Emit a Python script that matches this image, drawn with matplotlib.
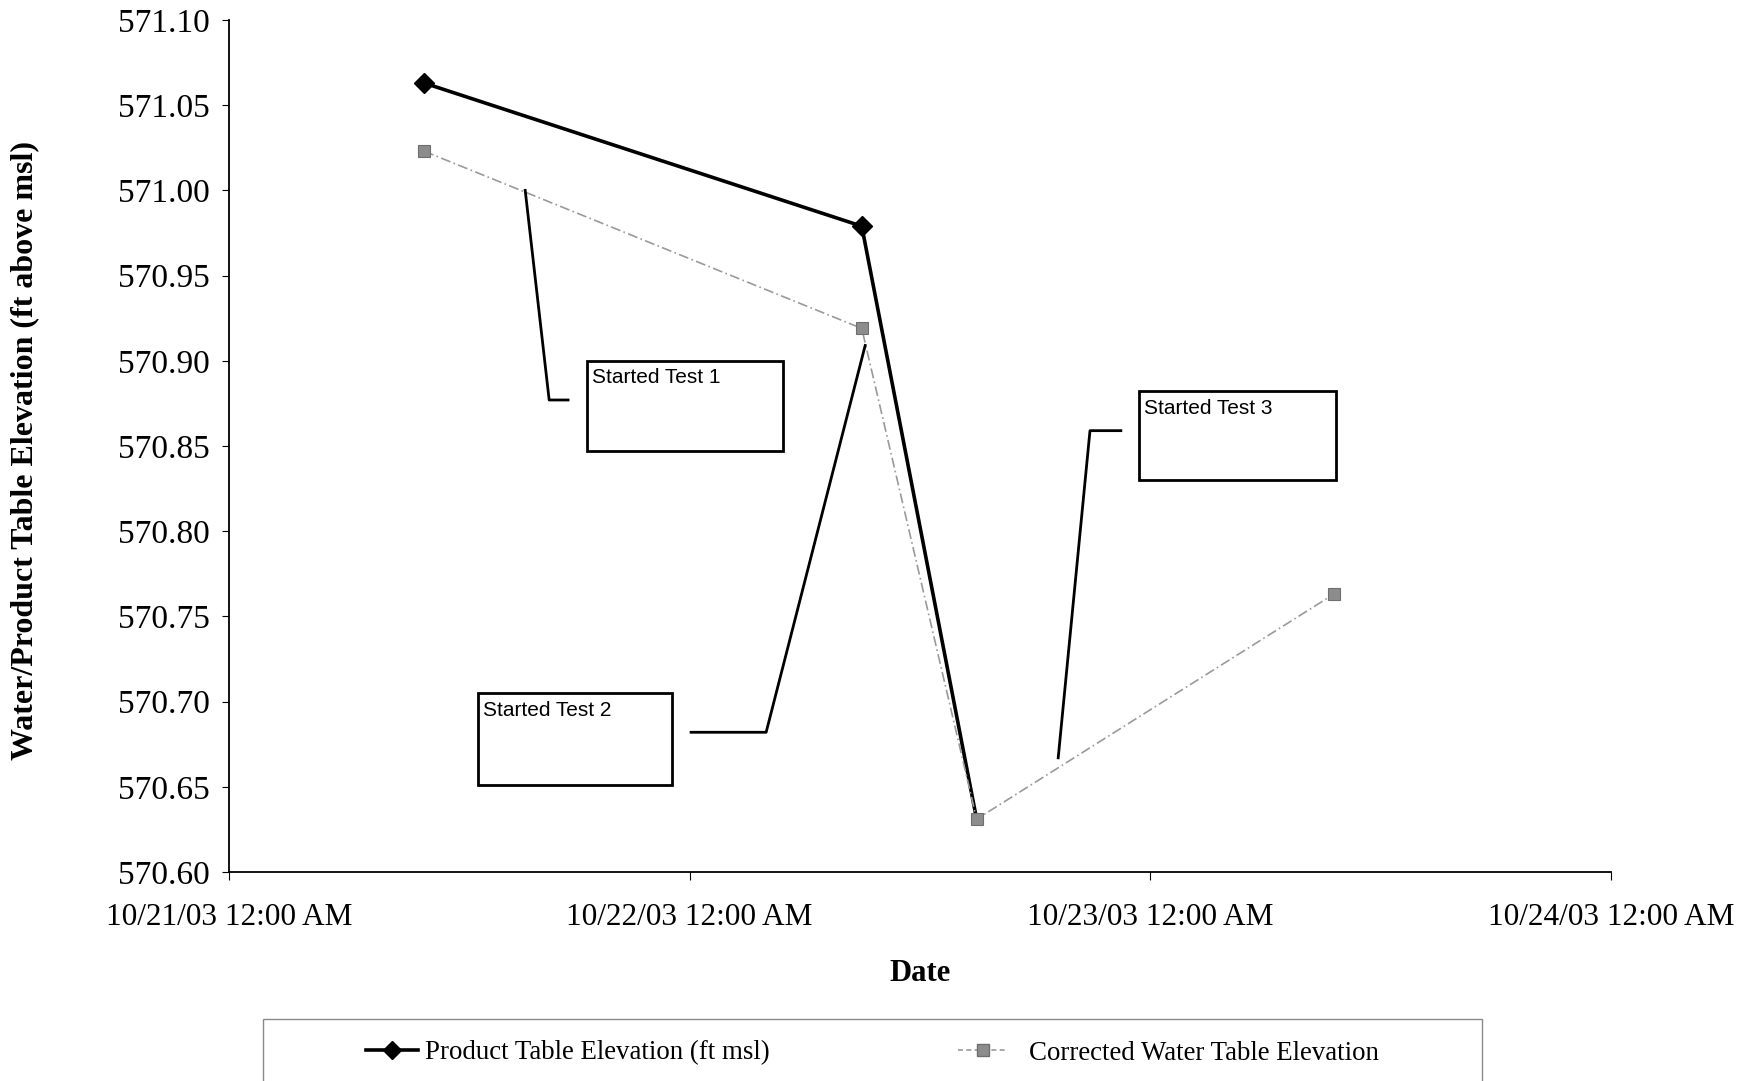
import matplotlib
matplotlib.use("Agg")
import matplotlib.pyplot as plt
import matplotlib.dates as mdates
from matplotlib.patches import Rectangle
from matplotlib.lines import Line2D
import datetime as dt

# ---- data ----
product_times = ["2003-10-21 10:10", "2003-10-22 08:58", "2003-10-22 14:57"]
product_values = [571.063, 570.979, 570.631]
water_times = ["2003-10-21 10:10", "2003-10-22 08:58", "2003-10-22 14:57", "2003-10-23 09:33"]
water_values = [571.023, 570.919, 570.631, 570.763]
series_labels = ["Product Table Elevation (ft msl)", "Corrected Water Table Elevation"]
x_ticks = ["2003-10-21 00:00", "2003-10-22 00:00", "2003-10-23 00:00", "2003-10-24 00:00"]
y_ticks = [570.60, 570.65, 570.70, 570.75, 570.80, 570.85, 570.90, 570.95, 571.00, 571.05, 571.10]
callout_texts = ["Started Test 1", "Started Test 2", "Started Test 3"]
# callout boxes: (left_day, bottom, right_day, top) in days after 10/21 00:00 and elevation
callout_boxes = [(0.777, 570.847, 1.203, 570.900),
                 (0.540, 570.651, 0.962, 570.705),
                 (1.975, 570.830, 2.403, 570.882)]
callout_leaders = [[(0.736, 570.877), (0.695, 570.877), (0.643, 571.000)],
                   [(1.003, 570.682), (1.166, 570.682), (1.381, 570.909)],
                   [(1.936, 570.859), (1.869, 570.859), (1.800, 570.667)]]

def to_dt(s):
    return dt.datetime.strptime(s, "%Y-%m-%d %H:%M")

W, H = 1750, 1081
fig = plt.figure(figsize=(W / 100, H / 100), dpi=100)
ax = fig.add_axes([229 / W, 1 - 872 / H, (1611 - 229) / W, (872 - 20) / H])

serif = "Liberation Serif"
sans = "Liberation Sans"

pt = [to_dt(s) for s in product_times]
wt = [to_dt(s) for s in water_times]

l2, = ax.plot(wt, water_values, linestyle=(0, (6, 2, 1, 2)), color="#9a9a9a", lw=1.2,
              marker="s", markersize=9, markerfacecolor="#8c8c8c", markeredgecolor="#6e6e6e",
              markeredgewidth=0.8, zorder=3, label=series_labels[1])
l1, = ax.plot(pt, product_values, linestyle="-", color="black", lw=2.6,
              marker="D", markersize=10, markerfacecolor="black", markeredgecolor="black",
              markevery=[0, 1], zorder=2, label=series_labels[0])

x0 = to_dt(x_ticks[0])
ax.set_xlim(to_dt(x_ticks[0]), to_dt(x_ticks[-1]))
ax.set_ylim(y_ticks[0], y_ticks[-1])
ax.set_xticks([to_dt(s) for s in x_ticks])
ax.xaxis.set_major_formatter(mdates.DateFormatter("%m/%d/%y %I:%M %p"))
ax.set_yticks(y_ticks)
ax.set_yticklabels([f"{v:.2f}" for v in y_ticks])

for s in ["top", "right"]:
    ax.spines[s].set_visible(False)
for s in ["left", "bottom"]:
    ax.spines[s].set_linewidth(1.3)
    ax.spines[s].set_color("black")

ax.tick_params(axis="y", direction="out", length=5, width=0.8, pad=9,
               labelsize=24, labelfontfamily=serif)
ax.tick_params(axis="x", direction="out", length=6, width=0.8, pad=16,
               labelsize=22.5, labelfontfamily=serif)

ax.set_ylabel("Water/Product Table Elevation (ft above msl)", fontsize=23,
              fontweight="bold", family=serif)
ax.yaxis.set_label_coords(-0.137, 0.495)
ax.set_xlabel("Date", fontsize=22, fontweight="bold", family=serif, labelpad=20)

# callouts
for text, (l, b, r, t), leader in zip(callout_texts, callout_boxes, callout_leaders):
    xl = mdates.date2num(x0) + l
    xr = mdates.date2num(x0) + r
    ax.add_patch(Rectangle((xl, b), xr - xl, t - b, fill=True, facecolor="white",
                           edgecolor="black", lw=2.0, zorder=4))
    ax.text(xl + 0.012, t - 0.0045, text, family=sans, fontsize=15,
            ha="left", va="top", zorder=5)
    xs = [mdates.date2num(x0) + p[0] for p in leader]
    ys = [p[1] for p in leader]
    ax.add_line(Line2D(xs, ys, color="black", lw=2.0, zorder=4))

# legend frame (cut off at bottom)
fig.add_artist(Rectangle((263 / W, -0.05), (1482 - 263) / W, (H - 1019) / H + 0.05,
                         transform=fig.transFigure, fill=False, edgecolor="#8a8a8a", lw=1.0))
leg_font = {"family": serif, "size": 19.4}
h1 = Line2D([], [], color="black", lw=2.6, marker="D", markersize=9)
h2 = Line2D([], [], color="#9a9a9a", lw=1.2, linestyle=(0, (3, 2)), marker="s",
            markersize=9, markerfacecolor="#8c8c8c", markeredgecolor="#6e6e6e")
fig.legend([h1], [series_labels[0]], loc="center left", bbox_to_anchor=(366 / W, 1 - 1053 / H),
           frameon=False, prop=leg_font, borderpad=0, borderaxespad=0,
           handlelength=1.93, handletextpad=0.25)
fig.legend([h2], [series_labels[1]], loc="center left", bbox_to_anchor=(958 / W, 1 - 1053 / H),
           frameon=False, prop=leg_font, borderpad=0, borderaxespad=0,
           handlelength=1.86, handletextpad=0.78)

fig.savefig("out.png", dpi=100)
